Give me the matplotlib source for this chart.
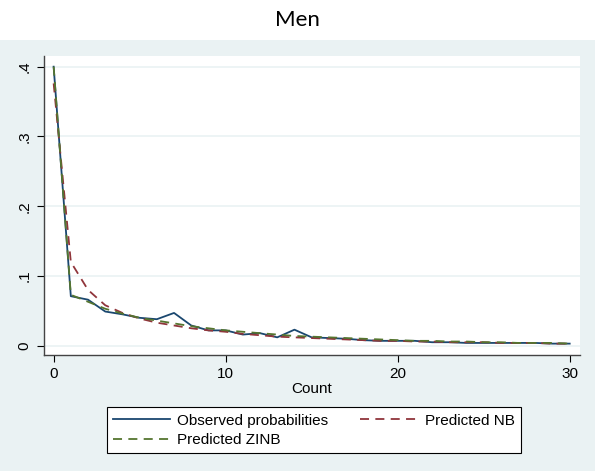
import matplotlib.pyplot as plt

plt.rcParams['font.family'] = ['Liberation Sans', 'DejaVu Sans']

counts = list(range(0, 31))
observed = [0.400, 0.071, 0.066, 0.049, 0.045, 0.040, 0.038, 0.047, 0.029, 0.022,
            0.022, 0.016, 0.018, 0.012, 0.023, 0.012, 0.011, 0.010, 0.008, 0.007,
            0.007, 0.007, 0.005, 0.005, 0.004, 0.004, 0.004, 0.004, 0.004, 0.003, 0.003]
pred_nb = [0.376, 0.120, 0.080, 0.058, 0.047, 0.039, 0.033, 0.029, 0.025, 0.022,
           0.020, 0.017, 0.015, 0.013, 0.012, 0.011, 0.010, 0.009, 0.008, 0.007,
           0.007, 0.006, 0.006, 0.005, 0.005, 0.005, 0.004, 0.004, 0.004, 0.003, 0.003]
pred_zinb = [0.400, 0.073, 0.063, 0.053, 0.046, 0.040, 0.036, 0.032, 0.028, 0.025,
             0.022, 0.020, 0.018, 0.016, 0.014, 0.013, 0.012, 0.011, 0.010, 0.009,
             0.008, 0.007, 0.007, 0.006, 0.006, 0.005, 0.005, 0.004, 0.004, 0.004, 0.003]
yticks = [0, 0.1, 0.2, 0.3, 0.4]
ylabels = ['0', '.1', '.2', '.3', '.4']
xticks = [0, 10, 20, 30]

panel = '#eaf2f3'
fig = plt.figure(figsize=(5.95, 4.71), dpi=100, facecolor='white')
# light stata-style background panel under the title
bg = fig.add_axes([0, 0, 1, 431 / 471], zorder=-5)
bg.set_facecolor(panel)
bg.set_xticks([])
bg.set_yticks([])
for s in bg.spines.values():
    s.set_visible(False)

fig.text(0.5, 1 - 20 / 471, 'Men', ha='center', va='center', fontsize=16,
         family=['Lato', 'DejaVu Sans'])

ax = fig.add_axes([44 / 595, 116 / 471, 536 / 595, 299 / 471])
ax.set_facecolor('white')
ax.plot(counts, observed, color='#1a476f', lw=1.3, label='Observed probabilities')
ax.plot(counts, pred_nb, color='#90353b', lw=1.3, dashes=(5, 3.5), label='Predicted NB')
ax.plot(counts, pred_zinb, color='#55752f', lw=1.3, dashes=(5, 3.5), label='Predicted ZINB')

ax.set_xlim(-0.56, 30.6)
ax.set_ylim(-0.0133, 0.4153)
ax.set_xticks(xticks)
ax.set_yticks(yticks)
ax.set_yticklabels(ylabels, rotation=90, va='center')
ax.tick_params(colors='black', labelsize=11, length=5, width=0.8)
ax.tick_params(axis='y', pad=4)
ax.grid(axis='y', color=panel, lw=1.2)
ax.set_axisbelow(True)
for s in ['top', 'right']:
    ax.spines[s].set_visible(False)
for s in ['left', 'bottom']:
    ax.spines[s].set_color('#444444')
    ax.spines[s].set_linewidth(1)
ax.set_xlabel('Count', fontsize=11, labelpad=1)

h, l = ax.get_legend_handles_labels()
order = [0, 2, 1]
leg = fig.legend([h[i] for i in order], [l[i] for i in order], ncol=2,
                 loc='lower left', bbox_to_anchor=(107 / 595, 18 / 471),
                 fontsize=11, frameon=True, fancybox=False,
                 edgecolor='black', facecolor='white', framealpha=1,
                 handlelength=3.7, handletextpad=0.5, borderpad=0.4,
                 labelspacing=0.35, columnspacing=2.1, borderaxespad=0)
leg.get_frame().set_linewidth(0.8)

fig.savefig('out.png', dpi=100, facecolor=fig.get_facecolor())
